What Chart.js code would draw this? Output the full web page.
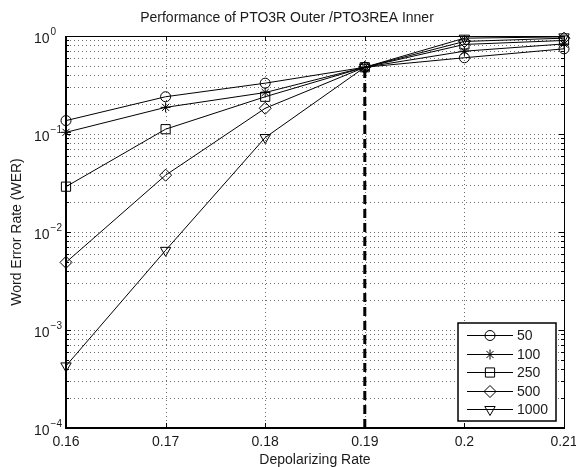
<!DOCTYPE html>
<html>
<head>
<meta charset="utf-8">
<script src="https://cdn.jsdelivr.net/npm/chart.js@4.4.0/dist/chart.umd.min.js"></script>
<style>
  html, body { margin: 0; padding: 0; background: #fff; }
  #wrap { width: 576px; height: 467px; }
</style>
</head>
<body>
<div id="wrap"><canvas id="chart" width="576" height="467"></canvas></div>
<script>
// Values
var rates = [0.16, 0.17, 0.18, 0.19, 0.20, 0.21];
var wer50 = [0.137, 0.24, 0.33, 0.48, 0.60, 0.74];
var wer100 = [0.104, 0.187, 0.265, 0.48, 0.70, 0.83];
var wer250 = [0.029, 0.112, 0.24, 0.48, 0.82, 0.90];
var wer500 = [0.0049, 0.038, 0.183, 0.48, 0.88, 0.95];
var wer1000 = [0.00043, 0.0065, 0.092, 0.48, 0.95, 0.98];
var thresholdX = [0.19, 0.19];
var thresholdY = [0.0001, 0.48];

var seriesNames = ['50', '100', '250', '500', '1000'];
var xTicks = [0.16, 0.17, 0.18, 0.19, 0.20, 0.21];
var xTickLabels = ['0.16', '0.17', '0.18', '0.19', '0.2', '0.21'];
var yExponents = [-4, -3, -2, -1, 0];

var FONT = '"Liberation Sans", Arial, Helvetica, sans-serif';
var TEXT = '#1a1a1a';

// All log ticks 1..9 x 10^k for the grid
var yGridValues = [];
for (var e = -4; e < 0; e++) {
    for (var m = 1; m <= 9; m++) {
        yGridValues.push(m * Math.pow(10, e));
    }
}
yGridValues.push(1);

// Markers for each series
var markers = [
    { pointStyle: 'circle', radius: 5, rotation: 0 },
    { pointStyle: 'star', radius: 5, rotation: 0 },
    { pointStyle: 'rect', radius: 6.5, rotation: 0 },
    { pointStyle: 'rectRot', radius: 6, rotation: 0 },
    { pointStyle: 'triangle', radius: 6, rotation: 180 }
];

function toPoints(xs, ys) {
    var pts = [];
    for (var i = 0; i < xs.length; i++) {
        pts.push({ x: xs[i], y: ys[i] });
    }
    return pts;
}

function CreateSeries(label, values, marker) {
    return {
        label: label,
        data: toPoints(rates, values),
        showLine: true,
        borderColor: '#000',
        borderWidth: 1,
        backgroundColor: 'rgba(0,0,0,0)',
        pointStyle: marker.pointStyle,
        pointRadius: marker.radius,
        pointRotation: marker.rotation,
        pointBorderWidth: 1,
        pointBorderColor: '#000',
        pointBackgroundColor: 'rgba(0,0,0,0)',
        clip: false
    };
}

var allSeries = [wer50, wer100, wer250, wer500, wer1000];
var datasets = [];
for (var s = 0; s < allSeries.length; s++) {
    datasets.push(CreateSeries(seriesNames[s], allSeries[s], markers[s]));
}
datasets.push({
    label: 'threshold',
    data: toPoints(thresholdX, thresholdY),
    showLine: true,
    borderColor: '#000',
    borderWidth: 3,
    borderDash: [9, 5],
    pointRadius: 0,
    clip: false
});

// Draws the MATLAB style axes, grid, labels and legend
var matlabAxes = {
    id: 'matlabAxes',
    beforeDatasetsDraw: function (chart) {
        var ctx = chart.ctx, a = chart.chartArea;
        var xs = chart.scales.x, ys = chart.scales.y;
        ctx.save();
        ctx.strokeStyle = '#6e6e6e';
        ctx.lineWidth = 1;
        ctx.setLineDash([1, 3]);
        yGridValues.forEach(function (v) {
            var py = Math.round(ys.getPixelForValue(v)) + 0.5;
            if (py <= a.top + 1 || py >= a.bottom - 1) return;
            ctx.beginPath();
            ctx.moveTo(a.left, py);
            ctx.lineTo(a.right, py);
            ctx.stroke();
        });
        xTicks.forEach(function (v) {
            var px = Math.round(xs.getPixelForValue(v)) + 0.5;
            if (px <= a.left + 1 || px >= a.right - 1) return;
            ctx.beginPath();
            ctx.moveTo(px, a.top);
            ctx.lineTo(px, a.bottom);
            ctx.stroke();
        });
        ctx.restore();
    },
    afterDatasetsDraw: function (chart) {
        var ctx = chart.ctx, a = chart.chartArea;
        var xs = chart.scales.x, ys = chart.scales.y;
        ctx.save();
        ctx.setLineDash([]);
        ctx.strokeStyle = '#000';

        // Box
        ctx.lineWidth = 1;
        ctx.beginPath();
        ctx.moveTo(a.left, a.top + 0.5);
        ctx.lineTo(a.right + 0.5, a.top + 0.5);
        ctx.lineTo(a.right + 0.5, a.bottom);
        ctx.stroke();
        ctx.lineWidth = 2;
        ctx.beginPath();
        ctx.moveTo(a.left, a.top);
        ctx.lineTo(a.left, a.bottom);
        ctx.lineTo(a.right + 1, a.bottom);
        ctx.stroke();

        // Inner ticks
        ctx.lineWidth = 1;
        yGridValues.forEach(function (v, i) {
            var py = Math.round(ys.getPixelForValue(v)) + 0.5;
            var len = (i % 9 === 0) ? 5 : 3;
            ctx.beginPath();
            ctx.moveTo(a.left, py);
            ctx.lineTo(a.left + len, py);
            ctx.moveTo(a.right, py);
            ctx.lineTo(a.right - len, py);
            ctx.stroke();
        });
        xTicks.forEach(function (v) {
            var px = Math.round(xs.getPixelForValue(v)) + 0.5;
            ctx.beginPath();
            ctx.moveTo(px, a.bottom);
            ctx.lineTo(px, a.bottom - 5);
            ctx.moveTo(px, a.top);
            ctx.lineTo(px, a.top + 5);
            ctx.stroke();
        });

        // Tick labels
        ctx.fillStyle = TEXT;
        ctx.font = '14px ' + FONT;
        ctx.textAlign = 'center';
        ctx.textBaseline = 'middle';
        xTicks.forEach(function (v, i) {
            ctx.fillText(xTickLabels[i], xs.getPixelForValue(v), a.bottom + 14);
        });
        yExponents.forEach(function (p) {
            var py = ys.getPixelForValue(Math.pow(10, p));
            ctx.textAlign = 'left';
            ctx.font = '14px ' + FONT;
            ctx.fillText('10', 34, py + 3);
            var w = ctx.measureText('10').width;
            ctx.font = '10px ' + FONT;
            ctx.fillText(p === 0 ? '0' : '\u2212' + Math.abs(p), 34 + w + 1, py - 4);
        });

        // Titles
        ctx.textAlign = 'center';
        ctx.font = '14px ' + FONT;
        ctx.fillText('Performance of PTO3R Outer /PTO3REA Inner', 287, 18);
        ctx.fillText('Depolarizing Rate', (a.left + a.right) / 2, 460);
        ctx.save();
        ctx.translate(17, (a.top + a.bottom) / 2);
        ctx.rotate(-Math.PI / 2);
        ctx.fillText('Word Error Rate (WER)', 0, 0);
        ctx.restore();

        // Legend
        var lx = 458, ly = 323, lw = 98, lh = 98;
        ctx.fillStyle = '#fff';
        ctx.fillRect(lx, ly, lw, lh);
        ctx.lineWidth = 1.5;
        ctx.strokeRect(lx, ly, lw, lh);
        ctx.lineWidth = 1;
        for (var i = 0; i < seriesNames.length; i++) {
            var ry = Math.round(ly + 12 + i * 18.6) + 0.5;
            ctx.beginPath();
            ctx.moveTo(467, ry);
            ctx.lineTo(513, ry);
            ctx.stroke();
            ctx.fillStyle = 'rgba(0,0,0,0)';
            if (Chart.helpers && Chart.helpers.drawPoint) {
                Chart.helpers.drawPoint(ctx, {
                    pointStyle: markers[i].pointStyle,
                    radius: markers[i].radius,
                    rotation: markers[i].rotation,
                    borderWidth: 1
                }, 490, ry);
            }
            ctx.fillStyle = TEXT;
            ctx.textAlign = 'left';
            ctx.font = '14px ' + FONT;
            ctx.fillText(seriesNames[i], 517, ry + 1);
        }
        ctx.restore();
    }
};

new Chart(document.getElementById('chart'), {
    type: 'scatter',
    data: { datasets: datasets },
    options: {
        responsive: false,
        animation: false,
        layout: { padding: { top: 36, right: 12, left: 0, bottom: 0 } },
        plugins: {
            legend: { display: false },
            title: { display: false },
            tooltip: { enabled: false }
        },
        scales: {
            x: {
                type: 'linear',
                min: 0.16,
                max: 0.21,
                grid: { display: false },
                border: { display: false },
                ticks: { display: false },
                afterFit: function (scale) { scale.height = 39; }
            },
            y: {
                type: 'logarithmic',
                min: 0.0001,
                max: 1,
                grid: { display: false },
                border: { display: false },
                ticks: { display: false },
                afterFit: function (scale) { scale.width = 66; }
            }
        }
    },
    plugins: [matlabAxes]
});
</script>
</body>
</html>
